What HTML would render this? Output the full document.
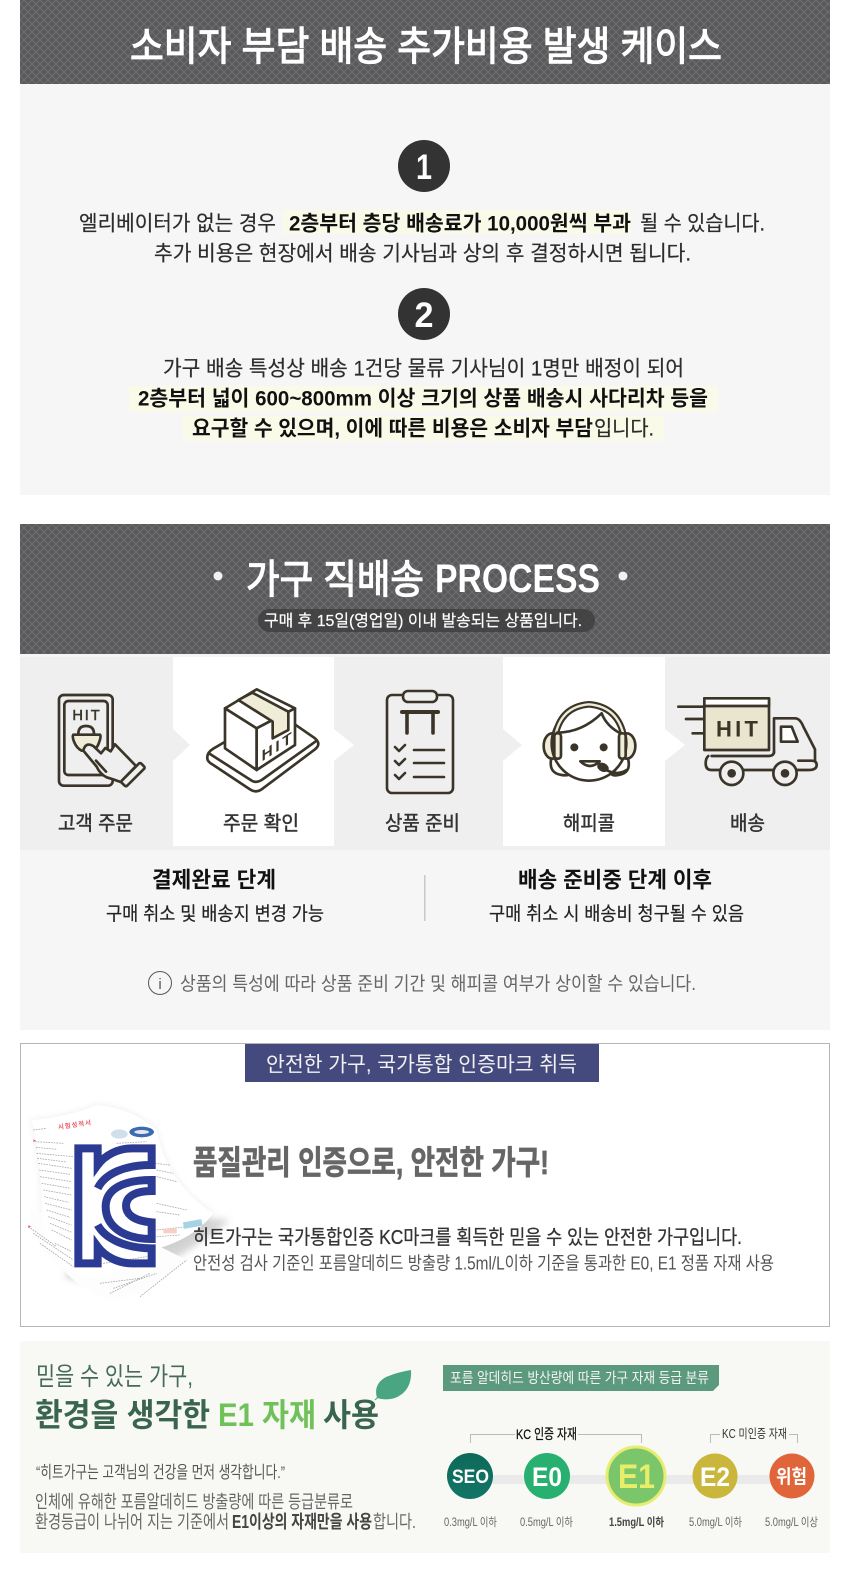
<!DOCTYPE html>
<html lang="ko"><head><meta charset="utf-8"><title>배송 안내</title>
<style>
html,body{margin:0;padding:0;background:#fff;width:850px;height:1584px;overflow:hidden}
svg{display:block}
text{font-family:"Liberation Sans","Noto Sans CJK KR",sans-serif;white-space:pre}
.ic{fill:none;stroke:#3b3529;stroke-width:8;stroke-linejoin:round;stroke-linecap:round}
.b{font-weight:700}
</style></head><body>
<svg xmlns="http://www.w3.org/2000/svg" width="850" height="1584" viewBox="0 0 850 1584">
<defs>
<pattern id="hatch" width="8" height="8" patternUnits="userSpaceOnUse">
<rect width="8" height="8" fill="#59595b"/>
<path d="M0 0L8 8M8 0L0 8" stroke="#717174" stroke-width=".85"/>
</pattern>
<filter id="blur" x="-20%" y="-20%" width="140%" height="140%"><feGaussianBlur stdDeviation="10"/></filter>
<linearGradient id="seo" x1="0" y1="0" x2="0" y2="1"><stop offset="0" stop-color="#0d6a5a"/><stop offset="1" stop-color="#137566"/></linearGradient>
</defs>

<!-- section 1 -->
<rect x="20" y="0" width="810" height="84" fill="url(#hatch)"/>
<rect x="20" y="84" width="810" height="411" fill="#f6f6f6"/>
<text x="130" y="60" font-size="40" fill="#fff" stroke="#fff" stroke-width="1.2" textLength="592" lengthAdjust="spacingAndGlyphs">소비자 부담 배송 추가비용 발생 케이스</text>
<circle cx="424" cy="166" r="26" fill="#333"/>
<text x="424" y="179" font-size="35" fill="#fff" class="b" text-anchor="middle" textLength="16" lengthAdjust="spacingAndGlyphs">1</text>
<rect x="283" y="210" width="348" height="24" fill="#fafae8"/>
<g fill="#2c2c2c" stroke="#2c2c2c" stroke-width=".2" font-size="21">
<text x="79" y="230.5" textLength="197" lengthAdjust="spacingAndGlyphs">엘리베이터가 없는 경우</text>
<text x="640" y="230.5" textLength="125" lengthAdjust="spacingAndGlyphs">될 수 있습니다.</text>
<text x="154" y="260.5" textLength="537" lengthAdjust="spacingAndGlyphs">추가 비용은 현장에서 배송 기사님과 상의 후 결정하시면 됩니다.</text>
<text x="163" y="375.5" textLength="521" lengthAdjust="spacingAndGlyphs">가구 배송 특성상 배송 1건당 물류 기사님이 1명만 배정이 되어</text>
</g>
<text x="289" y="230.5" font-size="21" fill="#111" class="b" textLength="342" lengthAdjust="spacingAndGlyphs">2층부터 층당 배송료가 10,000원씩 부과</text>
<circle cx="424" cy="314" r="26" fill="#333"/>
<text x="424" y="327" font-size="35" fill="#fff" class="b" text-anchor="middle" textLength="19" lengthAdjust="spacingAndGlyphs">2</text>
<rect x="129" y="386" width="589" height="26" fill="#fafae8"/>
<text x="138" y="405.5" font-size="21" fill="#111" class="b" textLength="570" lengthAdjust="spacingAndGlyphs">2층부터 넓이 600~800mm 이상 크기의 상품 배송시 사다리차 등을</text>
<rect x="183" y="416" width="481" height="25" fill="#fafae8"/>
<text x="192" y="435.5" font-size="21" fill="#111" class="b" textLength="401" lengthAdjust="spacingAndGlyphs">요구할 수 있으며, 이에 따른 비용은 소비자 부담</text>
<text x="594" y="435.5" font-size="21" fill="#2c2c2c" stroke="#2c2c2c" stroke-width=".2" textLength="60" lengthAdjust="spacingAndGlyphs">입니다.</text>

<!-- section 2 -->
<rect x="20" y="524" width="810" height="130" fill="url(#hatch)"/>
<circle cx="218" cy="576" r="4.5" fill="#f2f2f2"/>
<circle cx="623" cy="576" r="4.5" fill="#f2f2f2"/>
<text x="246" y="593" font-size="40" fill="#fff" stroke="#fff" stroke-width="1.2" textLength="178" lengthAdjust="spacingAndGlyphs">가구 직배송</text>
<text x="435" y="592" font-size="40" fill="#fff" class="b" textLength="165" lengthAdjust="spacingAndGlyphs">PROCESS</text>
<rect x="258" y="609" width="337" height="23" rx="11.5" fill="#3f3f41" fill-opacity=".85"/>
<text x="264" y="626" font-size="16" fill="#fff" stroke="#fff" stroke-width=".2" textLength="318" lengthAdjust="spacingAndGlyphs">구매 후 15일(영업일) 이내 발송되는 상품입니다.</text>

<rect x="20" y="654" width="810" height="196" fill="#efefef"/>
<rect x="20" y="654" width="810" height="3" fill="#f4f4f4"/>
<rect x="173" y="657" width="161" height="189" fill="#fff"/>
<rect x="503" y="657" width="162" height="189" fill="#fff"/>
<path d="M173 729L190 745L173 761Z" fill="#efefef"/>
<path d="M334 729L354 745L334 761Z" fill="#fff"/>
<path d="M503 729L522 745L503 761Z" fill="#efefef"/>
<path d="M665 729L685 745L665 761Z" fill="#fff"/>

<!-- icons left half -->
<g transform="translate(0,510) scale(.33333)">
  <g class="ic">
    <rect x="177" y="555" width="161" height="272" rx="14"/>
    <rect x="193" y="573" width="130" height="222" rx="12"/>
    <path d="M235 672Q235 648 258 648Q282 648 282 672" />
    <path d="M220 674H300Q304 680 298 695Q290 722 270 722H245Q230 715 222 695Q216 680 220 674Z" fill="#efecd8"/>
    <path d="M250 722Q256 695 280 708L303 730L316 714L332 724L345 703L408 768L362 816Q340 808 320 802Q300 792 290 770Z" fill="#efefef"/>
    <path d="M288 752L318 785"/>
    <rect x="358" y="783" width="82" height="22" rx="5" transform="rotate(-45 399 794)" fill="#efefef"/>
  </g>
  <text x="217" y="630" font-size="44" fill="#3b3529" stroke="#3b3529" stroke-width="1.5" textLength="82" lengthAdjust="spacing">HIT</text>
  <g class="ic">
    <path d="M622 745Q620 728 640 716L770 640L880 640L945 685Q965 702 945 718L785 838Q768 850 750 838L640 765Q622 755 622 745Z" fill="#fff"/>
    <path d="M630 732L755 812Q768 820 785 810L950 692"/>
    <path d="M675 595L770 538L885 595L770 655Z" fill="#fff"/>
    <path d="M675 595L770 655V780L675 715Z" fill="#fff"/>
    <path d="M770 655L885 595V705L770 780Z" fill="#fff"/>
    <path d="M715 570L757 548L865 605V660L818 685V635Z" fill="#efecd8"/>
  </g>
  <text transform="translate(785,755) skewY(-33)" font-size="46" class="b" fill="#3b3529" textLength="90" lengthAdjust="spacing">HIT</text>
</g>
<!-- clipboard -->
<g fill="none" stroke="#3b3529" stroke-width="2.6" stroke-linecap="round" stroke-linejoin="round">
  <rect x="387" y="695" width="66" height="98" rx="5"/>
  <rect x="403" y="691" width="34" height="11" rx="5" fill="#efefef"/>
  <path d="M402 712H438" stroke-width="4"/>
  <path d="M407 714V733M433 714V733" stroke-width="3.6"/>
  <path d="M395 747L399 751L405 745M395 761L399 765L405 759M395 775L399 779L405 773"/>
  <path d="M414 750H444M414 763H444M414 777H444"/>
</g>
<!-- icons right half -->
<g transform="translate(425,510) scale(.33333)">
  <g class="ic">
    <path d="M378 750Q372 790 410 795Q440 800 435 780" fill="#fff"/>
    <path d="M610 750Q618 790 580 795Q560 800 555 785" fill="#fff"/>
    <ellipse cx="382" cy="708" rx="26" ry="38" fill="#efecd8"/>
    <ellipse cx="605" cy="708" rx="26" ry="38" fill="#efecd8"/>
    <circle cx="492" cy="700" r="112" fill="#fff"/>
    <path d="M392 672Q410 590 492 583Q575 590 595 672" stroke-width="20"/>
    <path d="M392 672Q410 590 492 583Q575 590 595 672" stroke-width="7" stroke="#efecd8"/>
    <path d="M396 668Q470 668 530 610Q545 650 590 672"/>
    <rect x="388" y="670" width="20" height="76" rx="9" fill="#efecd8"/>
    <rect x="582" y="670" width="20" height="76" rx="9" fill="#efecd8"/>
    <path d="M466 754Q495 782 524 754Z" fill="#fff"/>
    <path d="M535 775Q575 800 605 780"/>
  </g>
  <circle cx="448" cy="712" r="12" fill="#3b3529"/><circle cx="536" cy="712" r="12" fill="#3b3529"/>
  <ellipse cx="534" cy="772" rx="18" ry="13" fill="#3b3529" transform="rotate(25 534 772)"/>
  <g class="ic">
    <path d="M760 590H838M783 627H838M803 670H838"/>
    <rect x="838" y="565" width="194" height="155" fill="#e9e6cf"/>
    <rect x="838" y="565" width="194" height="23" fill="#fff"/>
    <path d="M1047 728V625H1110Q1125 625 1135 650L1170 718V752"/>
    <path d="M1068 650H1100L1118 695H1068Z" fill="#fff"/>
    <path d="M860 738H1030Q1047 738 1047 725M850 738Q842 745 842 760Q842 780 860 780H1150Q1175 780 1175 765Q1175 752 1160 752H1120"/>
    <circle cx="920" cy="790" r="35" fill="#efefef"/>
    <circle cx="1080" cy="790" r="35" fill="#efefef"/>
  </g>
  <circle cx="920" cy="790" r="13" fill="#3b3529"/><circle cx="1080" cy="790" r="13" fill="#3b3529"/>
  <text x="873" y="680" font-size="66" class="b" fill="#3b3529" textLength="126" lengthAdjust="spacing">HIT</text>
</g>

<g fill="#333" stroke="#333" stroke-width=".45" font-size="20">
<text x="58" y="830" textLength="75" lengthAdjust="spacingAndGlyphs">고객 주문</text>
<text x="223" y="830" textLength="76" lengthAdjust="spacingAndGlyphs">주문 확인</text>
<text x="385" y="830" textLength="75" lengthAdjust="spacingAndGlyphs">상품 준비</text>
<text x="563" y="830" textLength="52" lengthAdjust="spacingAndGlyphs">해피콜</text>
<text x="730" y="830" textLength="35" lengthAdjust="spacingAndGlyphs">배송</text>
</g>

<rect x="20" y="850" width="810" height="180" fill="#f6f6f6"/>
<text x="152" y="887.5" font-size="22" fill="#111" class="b" textLength="124" lengthAdjust="spacingAndGlyphs">결제완료 단계</text>
<text x="106" y="920" font-size="19" fill="#222" stroke="#222" stroke-width=".2" textLength="218" lengthAdjust="spacingAndGlyphs">구매 취소 및 배송지 변경 가능</text>
<rect x="424" y="875" width="1.5" height="46" fill="#c8c8c8"/>
<text x="518" y="887.5" font-size="22" fill="#111" class="b" textLength="194" lengthAdjust="spacingAndGlyphs">배송 준비중 단계 이후</text>
<text x="489" y="920" font-size="19" fill="#222" stroke="#222" stroke-width=".2" textLength="255" lengthAdjust="spacingAndGlyphs">구매 취소 시 배송비 청구될 수 있음</text>
<circle cx="160" cy="983" r="11.5" fill="none" stroke="#555" stroke-width="1"/>
<text x="160" y="989" font-size="15" fill="#555" text-anchor="middle">i</text>
<text x="180" y="990" font-size="19" fill="#666" textLength="516" lengthAdjust="spacingAndGlyphs">상품의 특성에 따라 상품 준비 기간 및 해피콜 여부가 상이할 수 있습니다.</text>

<!-- KC box -->
<rect x="20.5" y="1043.5" width="809" height="283" fill="#fff" stroke="#b5b5b5"/>
<rect x="245" y="1044" width="354" height="38" fill="#454a7e"/>
<text x="266" y="1071.5" font-size="21" fill="#f2f2f2" textLength="311" lengthAdjust="spacingAndGlyphs">안전한 가구, 국가통합 인증마크 취득</text>

<g transform="translate(0,1030) scale(.33333)">
  <path d="M95 270Q200 262 290 225Q400 235 470 300Q500 460 640 550Q570 640 430 665Q330 760 240 738Q150 700 125 560Q125 400 95 270Z" fill="#ddd" opacity=".55" filter="url(#blur)"/>
  <path d="M190 740Q330 790 500 700Q590 650 690 570L560 560L300 640Z" fill="#a0a0a0" opacity=".45" filter="url(#blur)"/>
  <path d="M90 545Q95 640 170 700Q260 800 340 810Q450 790 560 690L300 560Z" fill="#fdfdfd"/>
  <path d="M95 270Q200 262 290 225Q400 235 470 300Q500 460 640 550Q570 640 430 665Q330 760 240 738Q150 700 125 560Q125 400 95 270Z" fill="#fff"/>
  <g stroke="#a6a6a6" stroke-width="2.4" stroke-dasharray="5 3" fill="none">
    <path d="M100 300L140 295M105 335L190 340M108 352L170 358M110 370L220 380M112 385L200 396M115 400L215 415M118 420L210 433M120 440L215 455M125 460L212 475M130 480L215 495M132 500L205 517M135 520L215 540M140 540L210 562M145 560L215 585M150 580L215 607M155 600L215 630M165 640L215 665"/>
    <path d="M350 340L440 335M465 400L510 405M470 420L520 430M470 440L530 455M470 520L560 540M470 545L540 555M470 600L560 590M470 620L540 615"/>
    <path d="M85 590L170 650M100 610L220 690M120 640L220 710M330 790L450 730M420 800L560 690M300 760L420 745M340 775L470 730M310 700L440 680"/>
  </g>
  <text transform="translate(175,298) rotate(-8)" font-size="19" fill="#e85a6a" letter-spacing="3" class="b">시험성적서</text>
  <path d="M100 328l8 4-8 4zM85 585l8 5-8 4z" fill="#e85a6a"/>
  <ellipse cx="358" cy="312" rx="25" ry="14" fill="#cfe0ec"/>
  <ellipse cx="425" cy="306" rx="37" ry="16" fill="#3d6bb0"/>
  <ellipse cx="425" cy="306" rx="22" ry="6" fill="#e7e7f2"/>
  <rect x="550" y="572" width="56" height="20" fill="#a4d3e6" transform="rotate(-10 578 582)"/>
  <rect x="490" y="596" width="40" height="14" fill="#f8cfc4"/>
</g>
<!-- KC mark -->
<g transform="translate(65,1135) scale(.33333)" fill="none" stroke="#2b3a92" stroke-width="24" stroke-linejoin="miter">
  <path d="M98 160C120 115 180 90 260 90V40H200C160 40 120 60 98 90V40H40V385H98V335C120 365 160 385 200 385H260V340C180 340 120 310 98 270"/>
  <path d="M260 135C170 135 122 165 122 215C122 270 170 312 260 312V262C210 258 183 240 183 212C183 185 210 168 260 168Z"/>
</g>
<text x="193" y="1174" font-size="33" fill="#666" stroke="#666" stroke-width=".7" class="b" textLength="356" lengthAdjust="spacingAndGlyphs">품질관리 인증으로, 안전한 가구!</text>
<text x="193" y="1244" font-size="20" fill="#333" stroke="#333" stroke-width=".3" textLength="549" lengthAdjust="spacingAndGlyphs">히트가구는 국가통합인증 KC마크를 획득한 믿을 수 있는 안전한 가구입니다.</text>
<text x="193" y="1269.5" font-size="18" fill="#555" textLength="581" lengthAdjust="spacingAndGlyphs">안전성 검사 기준인 포름알데히드 방출량 1.5ml/L이하 기준을 통과한 E0, E1 정품 자재 사용</text>

<!-- green panel -->
<rect x="20" y="1341" width="810" height="212" fill="#f8f9f5"/>
<text x="36" y="1385" font-size="25" fill="#466a58" textLength="157" lengthAdjust="spacingAndGlyphs">믿을 수 있는 가구,</text>
<text x="35" y="1426" font-size="32" fill="#39654f" class="b" textLength="175" lengthAdjust="spacingAndGlyphs">환경을 생각한</text>
<text x="218" y="1426" font-size="32" fill="#70c15a" class="b" textLength="98" lengthAdjust="spacingAndGlyphs">E1 자재</text>
<text x="323" y="1426" font-size="32" fill="#39654f" class="b" textLength="56" lengthAdjust="spacingAndGlyphs">사용</text>
<path d="M377 1398Q373 1384 386 1377Q398 1372 411 1370Q412 1386 402 1394Q392 1402 377 1398Z" fill="#4aa583"/>
<path d="M375 1400Q380 1395 386 1392" stroke="#4aa583" stroke-width="1" fill="none"/>
<text x="36" y="1478" font-size="17" fill="#555" textLength="249" lengthAdjust="spacingAndGlyphs">“히트가구는 고객님의 건강을 먼저 생각합니다.”</text>
<text x="35" y="1508" font-size="18" fill="#666" textLength="318" lengthAdjust="spacingAndGlyphs">인체에 유해한 포름알데히드 방출량에 따른 등급분류로</text>
<text x="35" y="1528" font-size="18" fill="#666" textLength="194" lengthAdjust="spacingAndGlyphs">환경등급이 나뉘어 지는 기준에서</text>
<text x="232" y="1528" font-size="18" fill="#444" class="b" textLength="140" lengthAdjust="spacingAndGlyphs">E1이상의 자재만을 사용</text>
<text x="373" y="1528" font-size="18" fill="#666" textLength="43" lengthAdjust="spacingAndGlyphs">합니다.</text>

<path d="M443 1365H719V1385L713 1391H443Z" fill="#5c9a7e"/>
<text x="450" y="1383" font-size="14.5" fill="#f4f4f4" textLength="259" lengthAdjust="spacingAndGlyphs">포름 알데히드 방산량에 따른 가구 자재 등급 분류</text>

<path d="M470.5 1443V1434.5H641.5V1443M710.5 1443V1434.5H797.5V1443" fill="none" stroke="#bbb"/>
<rect x="515" y="1426" width="63" height="16" fill="#f8f9f5"/>
<rect x="720" y="1426" width="69" height="16" fill="#f8f9f5"/>
<text x="516" y="1439" font-size="14" fill="#111" stroke="#111" stroke-width=".25" textLength="61" lengthAdjust="spacingAndGlyphs">KC 인증 자재</text>
<text x="722" y="1438" font-size="12.5" fill="#333" textLength="65" lengthAdjust="spacingAndGlyphs">KC 미인증 자재</text>

<rect x="470" y="1475" width="320" height="9" fill="#eaeaea"/>
<circle cx="470" cy="1476" r="23" fill="url(#seo)"/>
<circle cx="547" cy="1476" r="23" fill="#27b06f"/>
<circle cx="636" cy="1476" r="29" fill="#7bc56a" stroke="#e9ec72" stroke-width="3"/>
<circle cx="715" cy="1476" r="22.5" fill="#cab63a"/>
<circle cx="792" cy="1476" r="22.5" fill="#e0653a"/>
<text x="452" y="1483" font-size="19" fill="#fff" class="b" textLength="37" lengthAdjust="spacingAndGlyphs">SEO</text>
<text x="532" y="1486" font-size="27" fill="#fff" class="b" textLength="30" lengthAdjust="spacingAndGlyphs">E0</text>
<text x="618" y="1488" font-size="34" fill="#e9ee6a" class="b" textLength="37" lengthAdjust="spacingAndGlyphs">E1</text>
<text x="700" y="1486" font-size="27" fill="#fff" class="b" textLength="30" lengthAdjust="spacingAndGlyphs">E2</text>
<text x="776" y="1483" font-size="19" fill="#fff" class="b" textLength="31" lengthAdjust="spacingAndGlyphs">위험</text>
<text x="444" y="1526" font-size="11.5" fill="#666" textLength="53" lengthAdjust="spacingAndGlyphs">0.3mg/L 이하</text>
<text x="520" y="1526" font-size="11.5" fill="#666" textLength="53" lengthAdjust="spacingAndGlyphs">0.5mg/L 이하</text>
<text x="609" y="1526" font-size="11.5" fill="#444" class="b" textLength="55" lengthAdjust="spacingAndGlyphs">1.5mg/L 이하</text>
<text x="689" y="1526" font-size="11.5" fill="#666" textLength="53" lengthAdjust="spacingAndGlyphs">5.0mg/L 이하</text>
<text x="765" y="1526" font-size="11.5" fill="#666" textLength="53" lengthAdjust="spacingAndGlyphs">5.0mg/L 이상</text>
</svg>
</body></html>
